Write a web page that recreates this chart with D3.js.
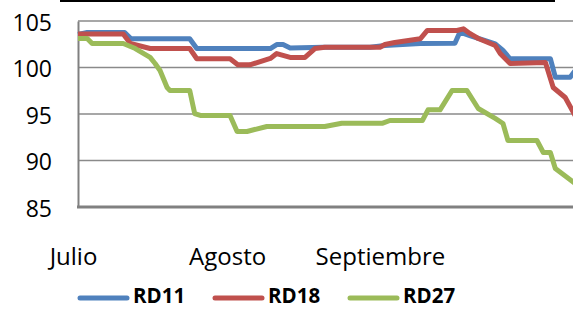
<!DOCTYPE html>
<meta charset="utf-8">
<script src="https://d3js.org/d3.v7.min.js"></script>
<style>
  body { margin: 0; background: #fff; }
  text { font-family: "Open Sans", sans-serif; fill: #000; }
</style>
<div id="chart"></div>
<script>

    // data: [day index, value]
    var rd11 = [[0, 103.55], [1.3, 103.76], [6.6, 103.76], [7.5, 103.09], [15.8, 103.09], [16.8, 102.04],
        [27.2, 102.04], [28.1, 102.47], [29.0, 102.47], [30, 102.1], [34.7, 102.18], [41.3, 102.18],
        [43.4, 102.37], [48.4, 102.58], [53.3, 102.61], [54.0, 103.8], [55.4, 103.44], [57.6, 102.9],
        [59.0, 102.55], [60.1, 101.83], [61.1, 100.94], [66.8, 100.94], [67.5, 98.96], [69.6, 98.96],
        [70.3, 99.68]];

    var rd18 = [[0, 103.6], [6.4, 103.6], [7.4, 102.58], [10.2, 102.04], [15.8, 102.04], [16.8, 100.94],
        [21.5, 100.94], [22.6, 100.29], [24.3, 100.29], [27.2, 100.97], [28.1, 101.5], [30, 101.08],
        [32.1, 101.08], [33.5, 102.04], [34.9, 102.18], [42.7, 102.18], [43.4, 102.47], [44.8, 102.69],
        [48.4, 103.09], [49.4, 103.98], [53.6, 103.98], [54.5, 104.16], [55.4, 103.66], [56.6, 103.12],
        [59.0, 102.37], [59.7, 101.5], [61.1, 100.43], [66.1, 100.54], [67.2, 97.85], [68.9, 96.77],
        [70.3, 94.84]];

    var rd27 = [[0, 103.12], [1.3, 103.12], [2.0, 102.58], [6.4, 102.58], [8.1, 102.04], [10.2, 101.08],
        [10.9, 100.43], [11.6, 99.68], [12.6, 97.85], [13.0, 97.53], [15.8, 97.53], [16.5, 95.05],
        [17.3, 94.84], [21.5, 94.84], [22.5, 93.12], [23.9, 93.12], [26.7, 93.66], [34.9, 93.66],
        [37.3, 94.01], [43.1, 94.01], [44.1, 94.3], [48.7, 94.3], [49.5, 95.45], [51.2, 95.45],
        [52.9, 97.53], [55.0, 97.53], [56.6, 95.59], [59.0, 94.52], [60.1, 93.98], [60.8, 92.15],
        [64.9, 92.15], [65.8, 90.86], [66.8, 90.86], [67.5, 89.14], [70.3, 87.53]];

    var seriesNames = ["RD11", "RD18", "RD27"];
    var seriesColors = ["#4F81BD", "#C0504D", "#9BBB59"];
    var yTicks = [85, 90, 95, 100, 105];
    var monthNames = ["Julio", "Agosto", "Septiembre"];
    var monthPos = [0, 21.8, 43.4];

    var width = 573, height = 309;
    var plotLeft = 78, plotRight = 573, plotTop = 21, plotBottom = 207;

    var svg = d3.select("#chart")
        .append("svg")
        .attr("width", width)
        .attr("height", height);

    var x = d3.scaleLinear().domain([0, 70]).range([plotLeft, plotRight]);
    var y = d3.scaleLinear().domain([85, 105]).range([plotBottom, plotTop]);

    // black rule at the top
    svg.append("line")
        .attr("x1", 60).attr("x2", 555)
        .attr("y1", 1).attr("y2", 1)
        .attr("stroke", "#000").attr("stroke-width", 2);

    // gridlines
    svg.selectAll(".grid")
        .data(yTicks.filter(function (d) { return d > 85; }))
        .enter()
        .append("line")
        .attr("x1", plotLeft).attr("x2", plotRight)
        .attr("y1", function (d) { return y(d); })
        .attr("y2", function (d) { return y(d); })
        .attr("stroke", "#8a8a8a").attr("stroke-width", 1.5);

    // y axis
    var yAxis = svg.append("g")
        .attr("transform", "translate(" + plotLeft + ",0)")
        .call(d3.axisLeft(y).tickValues(yTicks).tickSize(0).tickPadding(26));
    yAxis.select(".domain").attr("stroke", "#808080").attr("stroke-width", 2);
    yAxis.selectAll("text")
        .style("font-size", "23px")
        .attr("dy", "0.4em");

    // x axis line
    svg.append("line")
        .attr("x1", plotLeft - 1).attr("x2", plotRight)
        .attr("y1", plotBottom).attr("y2", plotBottom)
        .attr("stroke", "#808080").attr("stroke-width", 3);

    // month labels
    svg.selectAll(".month")
        .data(monthNames)
        .enter()
        .append("text")
        .attr("x", function (d, i) { return x(monthPos[i]) - 4.5; })
        .attr("y", 265)
        .attr("text-anchor", "middle")
        .style("font-size", "24px")
        .text(function (d) { return d; });

    // lines
    var line = d3.line()
        .x(function (d) { return x(d[0]); })
        .y(function (d) { return y(d[1]); });

    [rd11, rd18, rd27].forEach(function (s, i) {
        svg.append("path")
            .datum(s)
            .attr("fill", "none")
            .attr("stroke", seriesColors[i])
            .attr("stroke-width", 5)
            .attr("stroke-linejoin", "round")
            .attr("d", line);
    });

    // legend
    var legend = svg.selectAll(".legend")
        .data(seriesNames)
        .enter()
        .append("g")
        .attr("transform", function (d, i) { return "translate(" + (80 + i * 135) + ",298)"; });
    legend.append("line")
        .attr("x1", 0).attr("x2", 47)
        .attr("stroke", function (d, i) { return seriesColors[i]; })
        .attr("stroke-width", 5)
        .attr("stroke-linecap", "round");
    legend.append("text")
        .attr("x", 53)
        .attr("y", 5)
        .style("font-size", "20.5px")
        .style("font-weight", "bold")
        .text(function (d) { return d; });

</script>
